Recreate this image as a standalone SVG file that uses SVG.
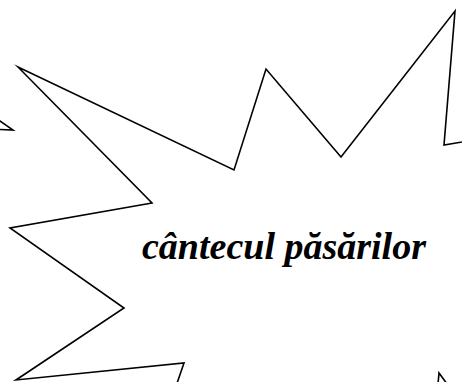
<svg xmlns="http://www.w3.org/2000/svg" width="462" height="382" viewBox="0 0 462 382">
<style>
.edge{fill:none;stroke:#000;stroke-width:1.6;stroke-linejoin:miter;stroke-miterlimit:20}
.lbl{font-family:"Liberation Serif","Times New Roman",serif;font-weight:bold;font-style:italic;font-size:38px;fill:#000}
</style>
<rect width="462" height="382" fill="#fff"/>
<g id="burst">
<polygon class="edge" points="18,67 234,170 266,69 341,157 455,11 444,145 480,139 480,400 453,392 439,373 437,395 174,392 184,363 16,380 124,308 10,228 152,203"/>
</g>
<g id="fragment">
<polyline class="edge" points="-10,114 13,130 -10,129"/>
</g>
<g id="label">
<text class="lbl" x="142" y="259">cântecul păsărilor</text>
</g>
</svg>
